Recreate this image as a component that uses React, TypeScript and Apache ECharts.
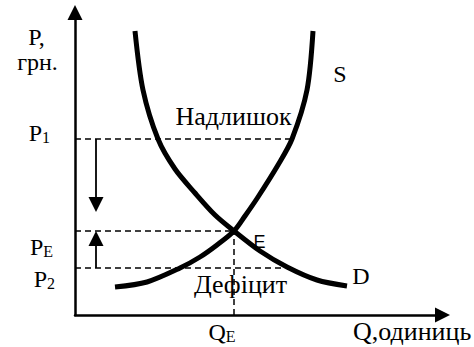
import React, { useEffect, useRef } from 'react';
import * as echarts from 'echarts';

// Quantity (Q) and price (P) in chart units
const demandQ = [60, 68, 83, 100, 120, 140, 159, 185, 212, 242, 272];
const demandP = [284, 225, 176, 146, 122, 100, 84, 64, 48, 35, 29];

const supplyQ = [40, 72, 105, 125, 142, 159, 170, 183, 203, 217, 232, 238];
const supplyP = [28, 33, 47, 58, 70, 84, 99, 118, 150, 176, 225, 284];

const priceTickNames = ['1', 'E', '2'];
const priceTickValues = [176, 84, 47];
const qTickName = 'E';
const qTickValue = 159;

// Where the dashed guides meet the curves
const p1GuideEndQ = 217;
const p2GuideEndQ = 208;

// Price-adjustment arrows
const arrowQ = 21;
const downArrowEndP = 103;

const Q_MAX = 367.5;
const P_MAX = 302.5;

const SERIF = 'Liberation Serif';
const SANS = 'Liberation Sans';

export default function App() {
  const ref = useRef<HTMLDivElement>(null);

  useEffect(() => {
    const chart = echarts.init(ref.current!, null, { renderer: 'svg' });
    const black = '#000';

    const zip = (a: number[], b: number[]) => a.map((v, i) => [v, b[i]]);

    const dashed = (pts: number[][]) => ({
      type: 'line',
      data: pts,
      symbol: 'none',
      silent: true,
      z: 2,
      lineStyle: { color: black, width: 1.5, type: [6, 4] },
    });

    const curve = (pts: number[][]) => ({
      type: 'line',
      data: pts,
      symbol: 'none',
      smooth: 0.3,
      silent: true,
      z: 3,
      lineStyle: { color: black, width: 5, cap: 'butt' },
    });

    const rich = {
      m: { fontSize: 24, fontFamily: SERIF, color: black, lineHeight: 26, verticalAlign: 'bottom' },
      s: { fontSize: 16, fontFamily: SERIF, color: black, lineHeight: 13, verticalAlign: 'bottom' },
    };

    const priceOffsets = [[-25, -7], [-22, 15], [-20, 10]];

    const labelSeries = (data: any[]) => ({
      type: 'scatter',
      symbolSize: 0,
      clip: false,
      silent: true,
      z: 5,
      itemStyle: { opacity: 1, color: black },
      data,
    });

    // Annotation text drawn as point labels
    const note = (t: string, q: number, p: number, opts: any = {}) => ({
      value: [q, p],
      label: {
        show: true,
        position: 'inside',
        align: opts.align ?? 'center',
        verticalAlign: 'middle',
        formatter: t,
        fontSize: opts.fontSize ?? 24,
        fontFamily: opts.fontFamily ?? SERIF,
        fontWeight: 'normal',
        color: black,
        opacity: 1,
      },
    });

    // pixel -> chart units helpers for annotation placement
    const qx = (x: number) => x - 75;
    const py = (y: number) => 315 - y;

    chart.setOption({
      animation: false,
      backgroundColor: '#fff',
      textStyle: { fontFamily: SERIF },
      grid: { left: 75, right: 474 - 75 - Q_MAX, top: 347 - 32 - P_MAX, bottom: 32, containLabel: false },
      xAxis: {
        type: 'value',
        min: 0,
        max: Q_MAX,
        axisLine: {
          show: true,
          onZero: false,
          symbol: ['none', 'triangle'],
          symbolSize: [15, 15],
          lineStyle: { color: black, width: 2.5 },
        },
        axisTick: { show: false },
        axisLabel: { show: false },
        splitLine: { show: false },
      },
      yAxis: {
        type: 'value',
        min: 0,
        max: P_MAX,
        axisLine: {
          show: true,
          onZero: false,
          symbol: ['none', 'triangle'],
          symbolSize: [15, 15],
          lineStyle: { color: black, width: 2.5 },
        },
        axisTick: { show: false },
        axisLabel: { show: false },
        splitLine: { show: false },
      },
      series: [
        dashed([[0, priceTickValues[0]], [p1GuideEndQ, priceTickValues[0]]]),
        dashed([[0, priceTickValues[1]], [qTickValue, priceTickValues[1]]]),
        dashed([[0, priceTickValues[2]], [p2GuideEndQ, priceTickValues[2]]]),
        dashed([[qTickValue, 0], [qTickValue, priceTickValues[1]]]),
        curve(zip(demandQ, demandP)),
        curve(zip(supplyQ, supplyP)),
        {
          type: 'lines',
          coordinateSystem: 'cartesian2d',
          silent: true,
          z: 4,
          symbol: ['none', 'triangle'],
          symbolSize: 15,
          lineStyle: { color: black, width: 1.8, opacity: 1 },
          data: [
            { coords: [[arrowQ, priceTickValues[0]], [arrowQ, downArrowEndP + 7.5]] },
            { coords: [[arrowQ, priceTickValues[2]], [arrowQ, priceTickValues[1] - 7.5]] },
          ],
        },
        labelSeries(
          priceTickValues.map((v, i) => ({
            value: [0, v],
            label: {
              show: true,
              position: 'inside',
              align: 'right',
              verticalAlign: 'middle',
              offset: priceOffsets[i],
              formatter: `{m|P}{s|${priceTickNames[i]}}`,
              opacity: 1,
              rich,
            },
          }))
        ),
        labelSeries([
          {
            value: [qTickValue, 0],
            label: {
              show: true,
              position: 'inside',
              align: 'center',
              verticalAlign: 'middle',
              offset: [-12, 16],
              formatter: `{m|Q}{s|${qTickName}}`,
              opacity: 1,
              rich,
            },
          },
        ]),
        labelSeries([
          note('P,', qx(36.5), py(37)),
          note('грн.', qx(37.5), py(62)),
          note('Надлишок', qx(233.5), py(116), { fontSize: 26 }),
          note('Дефіцит', qx(240.5), py(284), { fontSize: 26 }),
          note('S', qx(340), py(74)),
          note('D', qx(361), py(276)),
          note('E', qx(259.5), py(241.5), { fontSize: 18, fontFamily: SANS }),
          note('Q,одиниць', qx(353), py(331), { align: 'left', fontSize: 26 }),
        ]),
      ],
    });

    return () => chart.dispose();
  }, []);

  return (
    <div
      ref={ref}
      style={{ position: 'fixed', left: 0, top: 0, width: 474, height: 347, background: '#fff' }}
    />
  );
}
